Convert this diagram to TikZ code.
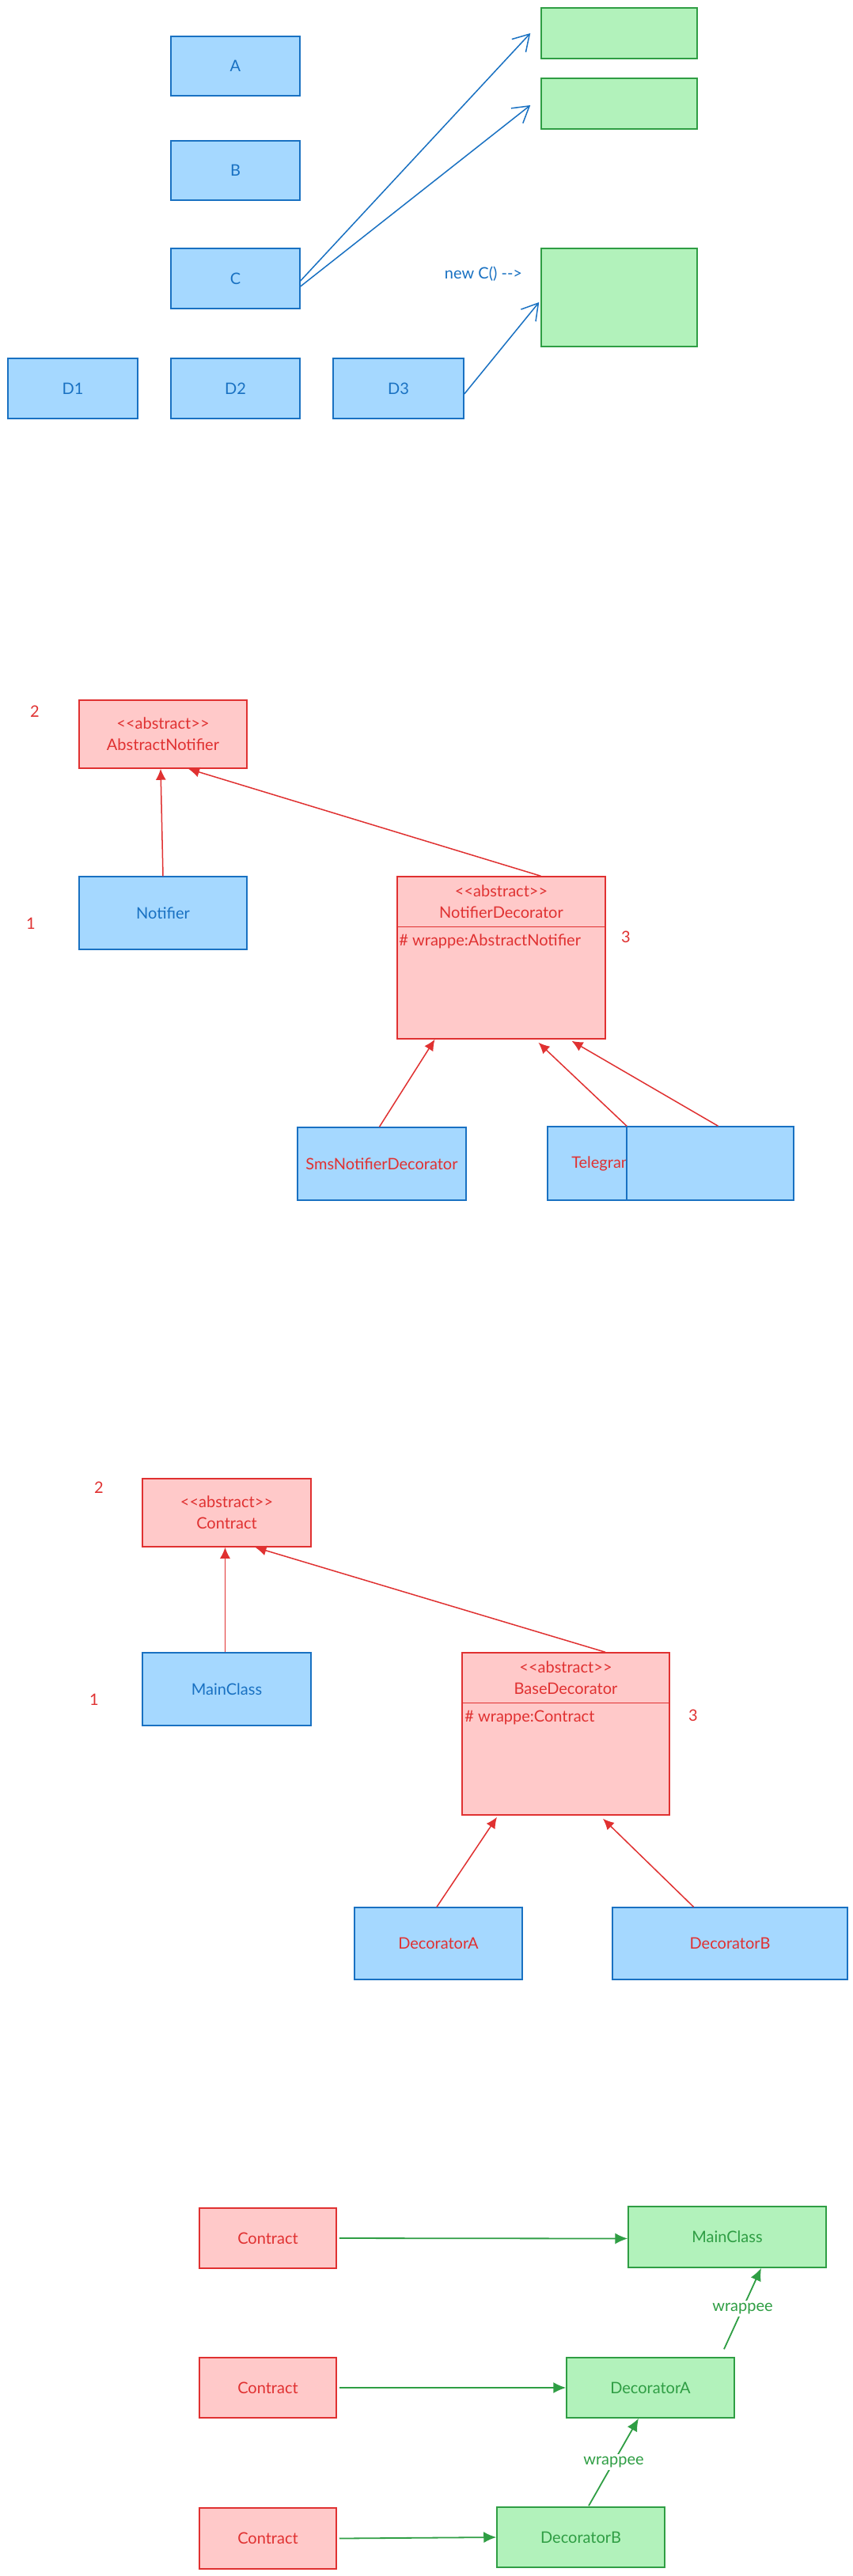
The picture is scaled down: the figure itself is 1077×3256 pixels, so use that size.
\documentclass[tikz,border=0pt]{standalone}
\usepackage{fontspec}
\setmainfont{Lato}[Ligatures=TeXOff]
\usetikzlibrary{arrows.meta, calc}
\definecolor{skBlue}{HTML}{1971C2}
\definecolor{skBlueFill}{HTML}{A5D8FF}
\definecolor{skRed}{HTML}{E03131}
\definecolor{skRedFill}{HTML}{FFC9C9}
\definecolor{skGreen}{HTML}{2F9E44}
\definecolor{skGreenFill}{HTML}{B2F2BB}
\newcommand{\boxFont}{\fontsize{20}{27}\selectfont}
\tikzset{
    boxBlue/.style={rectangle, draw=skBlue, fill=skBlueFill, text=skBlue, line width=1.5pt, inner sep=0pt, align=center, font=\boxFont},
    boxRed/.style={rectangle, draw=skRed, fill=skRedFill, text=skRed, line width=1.5pt, inner sep=0pt, align=center, font=\boxFont},
    boxGreen/.style={rectangle, draw=skGreen, fill=skGreenFill, text=skGreen, line width=1.5pt, inner sep=0pt, align=center, font=\boxFont},
    numLabel/.style={text=skRed, font=\boxFont},
    sketchEdge/.style={-{Straight Barb[length=20pt, width=24pt]}, draw=skBlue, line width=1.5pt},
    inheritEdge/.style={-{Latex[length=14pt, width=13pt]}, draw=skRed, line width=1.5pt},
    refEdge/.style={-{Latex[length=16pt, width=14pt]}, draw=skGreen, line width=1.8pt},
}
\newcommand{\abstractTag}{\textless\textless abstract\textgreater\textgreater}
\newcommand{\drawEdge}[3][inheritEdge]{
    \draw[#1] (#2) -- (#3);
}
\newcommand{\drawWrappee}[2]{
    \draw[refEdge] (#1) -- node[fill=white, text=skGreen, font=\boxFont, inner sep=3pt] {wrappee} (#2);
}
\newcommand{\drawSplit}[4]{
    % header line and field of a two-part class box
    \draw[skRed, line width=1.5pt] ($(#1.north west)+(0,64)$) -- ($(#1.north east)+(0,64)$);
    \node[text=skRed, font=\boxFont, align=center] (#1Head) at ($(#1.north)+(0,32.5)$) {\abstractTag\\#2};
    \node[text=skRed, font=\boxFont, anchor=west, inner sep=0pt] (#1Field) at ($(#1.north west)+(#4,83)$) {#3};
}

\begin{document}
\begin{tikzpicture}[x=1pt, y=-1pt]
        \path[use as bounding box, fill=white] (0,0) rectangle (1077,3256);

        % sketch
        \node[boxBlue, minimum width=163pt, minimum height=75pt] (A) at (297.5,83.5) {A};
        \node[boxBlue, minimum width=163pt, minimum height=75pt] (B) at (297.5,215.5) {B};
        \node[boxBlue, minimum width=163pt, minimum height=76pt] (C) at (297.5,352) {C};
        \node[boxBlue, minimum width=164pt, minimum height=76pt] (D1) at (92,491) {D1};
        \node[boxBlue, minimum width=163pt, minimum height=76pt] (D2) at (297.5,491) {D2};
        \node[boxBlue, minimum width=165pt, minimum height=76pt] (D3) at (503.5,491) {D3};
        \node[boxGreen, minimum width=197pt, minimum height=64pt] (G1) at (782.5,42) {};
        \node[boxGreen, minimum width=197pt, minimum height=64pt] (G2) at (782.5,131) {};
        \node[boxGreen, minimum width=197pt, minimum height=124pt] (G3) at (782.5,376) {};
        \node[text=skBlue, font=\boxFont] (newC) at (611,346) {new C() -->};

        \drawEdge[sketchEdge]{[yshift=-3pt]C.east}{[xshift=-13pt]G1.west}
        \drawEdge[sketchEdge]{[yshift=-10pt]C.east}{[xshift=-13pt, yshift=-2pt]G2.west}
        \drawEdge[sketchEdge]{[yshift=-7pt]D3.east}{[xshift=-2pt, yshift=-6pt]G3.west}

        % notifier
        \node[boxRed, minimum width=212pt, minimum height=86pt] (AbsNot) at (206,928) {\abstractTag\\AbstractNotifier};
        \node[boxBlue, minimum width=212pt, minimum height=92pt] (Notifier) at (206,1154) {Notifier};
        \node[boxRed, minimum width=263pt, minimum height=205pt] (NDec) at (633.5,1210.5) {};
        \drawSplit{NDec}{NotifierDecorator}{\# wrappe:AbstractNotifier}{3}
        \node[boxBlue, text=skRed, minimum width=213pt, minimum height=92pt] (Sms) at (482.5,1471) {SmsNotifierDecorator};
        \node[boxBlue, text=skRed, minimum width=296pt, minimum height=93pt] (Tel) at (840,1470.5) {TelegramNotifierDecorator};
        \node[boxBlue, minimum width=211pt, minimum height=93pt] (Extra) at (897.5,1470.5) {};
        \node[numLabel] (numTwoA) at (44,899) {2};
        \node[numLabel] (numOneA) at (39,1167) {1};
        \node[numLabel] (numThreeA) at (791,1184) {3};

        \drawEdge{Notifier.north}{[xshift=-3pt]AbsNot.south}
        \drawEdge{[xshift=50pt]NDec.north}{[xshift=32pt]AbsNot.south}
        \drawEdge{[xshift=-3pt]Sms.north}{[xshift=-84pt]NDec.south}
        \drawEdge{[xshift=-48pt]Tel.north}{[xshift=47pt, yshift=-4pt]NDec.south}
        \drawEdge{[xshift=10pt]Extra.north}{[xshift=89pt, yshift=-2pt]NDec.south}

        % contract
        \node[boxRed, minimum width=213pt, minimum height=86pt] (Contract) at (286.5,1912) {\abstractTag\\Contract};
        \node[boxBlue, minimum width=213pt, minimum height=92pt] (MainClass) at (286.5,2135) {MainClass};
        \node[boxRed, minimum width=262pt, minimum height=205pt] (BaseDec) at (715,2191.5) {};
        \drawSplit{BaseDec}{BaseDecorator}{\# wrappe:Contract}{4}
        \node[boxBlue, text=skRed, minimum width=212pt, minimum height=91pt] (DecA) at (554,2456.5) {DecoratorA};
        \node[boxBlue, text=skRed, minimum width=297pt, minimum height=91pt] (DecB) at (922.5,2456.5) {DecoratorB};
        \node[numLabel] (numTwoB) at (125,1880) {2};
        \node[numLabel] (numOneB) at (119,2148) {1};
        \node[numLabel] (numThreeB) at (876,2168) {3};

        \drawEdge{[xshift=-2pt]MainClass.north}{[xshift=-2pt]Contract.south}
        \drawEdge{[xshift=50pt]BaseDec.north}{[xshift=36pt]Contract.south}
        \drawEdge{[xshift=-2pt]DecA.north}{[xshift=-87pt, yshift=-2pt]BaseDec.south}
        \drawEdge{[xshift=-46pt]DecB.north}{[xshift=47pt, yshift=-4pt]BaseDec.south}

        % wrapping
        \node[boxRed, minimum width=173pt, minimum height=76pt] (CtrA) at (338.5,2829) {Contract};
        \node[boxRed, minimum width=173pt, minimum height=76pt] (CtrB) at (338.5,3018) {Contract};
        \node[boxRed, minimum width=173pt, minimum height=77pt] (CtrC) at (338.5,3208.5) {Contract};
        \node[boxGreen, minimum width=250pt, minimum height=77pt] (MainG) at (919,2827.5) {MainClass};
        \node[boxGreen, minimum width=212pt, minimum height=76pt] (DecAG) at (822,3018) {DecoratorA};
        \node[boxGreen, minimum width=212pt, minimum height=76pt] (DecBG) at (734,3207) {DecoratorB};

        \drawEdge[refEdge]{[xshift=3pt]CtrA.east}{[yshift=-2pt]MainG.west}
        \drawEdge[refEdge]{[xshift=3pt]CtrB.east}{DecAG.west}
        \drawEdge[refEdge]{[xshift=3pt]CtrC.east}{DecBG.west}
        \drawWrappee{[xshift=93pt, yshift=10pt]DecAG.north}{[xshift=43pt]MainG.south}
        \drawWrappee{[xshift=10pt, yshift=1pt]DecBG.north}{[xshift=-15pt]DecAG.south}

    \end{tikzpicture}
\end{document}
